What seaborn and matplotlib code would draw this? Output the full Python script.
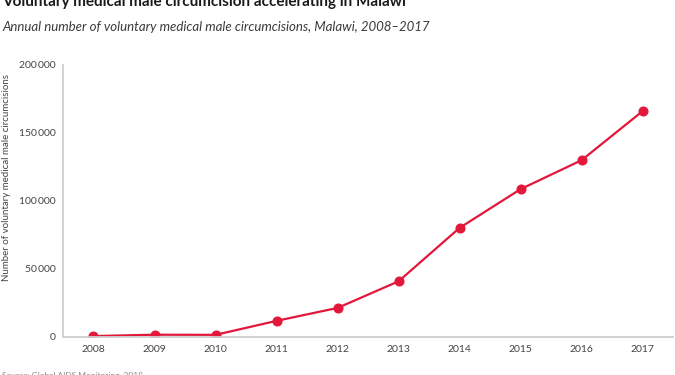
import matplotlib
matplotlib.use("Agg")
import matplotlib.pyplot as plt
import matplotlib.ticker as mticker
import pandas as pd
import seaborn as sns

years = [2008, 2009, 2010, 2011, 2012, 2013, 2014, 2015, 2016, 2017]
circumcisions = [500, 1500, 1400, 11700, 21200, 40800, 80100, 108600, 129900, 166000]
y_ticks = [0, 50000, 100000, 150000, 200000]

title = "Voluntary medical male circumcision accelerating in Malawi"
subtitle = "Annual number of voluntary medical male circumcisions, Malawi, 2008\u20132017"
y_label = "Number of voluntary medical male circumcisions"
source = "Source: Global AIDS Monitoring, 2018."

RED = "#e2173a"
GREY = "#cfcfcf"
TEXT = "#444444"

sns.set_theme(style="white")
plt.rcParams["font.family"] = ["Lato", "DejaVu Sans"]

df = pd.DataFrame({"year": years, "count": circumcisions})

fig = plt.figure(figsize=(6.75, 3.75), dpi=100)
ax = fig.add_axes([0.0933, 0.102, 0.904, 0.725])

sns.lineplot(
    data=df,
    x="year",
    y="count",
    color=RED,
    linewidth=1.6,
    marker="o",
    markersize=6.5,
    markeredgecolor=RED,
    ax=ax,
)

ax.set_xlim(2007.5, 2017.5)
ax.set_ylim(0, 200000)
ax.set_xticks(years)
ax.set_yticks(y_ticks)
ax.yaxis.set_major_formatter(
    mticker.FuncFormatter(lambda v, _: f"{int(v):,}".replace(",", "\u2009"))
)
ax.tick_params(axis="both", length=0, labelsize=7.5, colors=TEXT)
ax.tick_params(axis="x", pad=6)
ax.tick_params(axis="y", pad=5)

ax.set_xlabel("")
ax.set_ylabel(y_label, fontsize=7, color=TEXT)
ax.yaxis.set_label_coords(-0.085, 0.585)

sns.despine(ax=ax)
for side in ["left", "bottom"]:
    ax.spines[side].set_color(GREY)
    ax.spines[side].set_linewidth(1.3)

# title and source sit at the very edges, as in the original export
fig.text(0.003, 1 - 6 / 375, title, fontsize=11, fontweight="bold",
         color="#1a1a1a", va="baseline", ha="left")
fig.text(0.003, 1 - 31 / 375, subtitle, fontsize=9.5, style="italic",
         color="#3c3c3c", va="baseline", ha="left")
fig.text(0.003, 1 - 378 / 375, source, fontsize=6, color="#8a8a8a",
         va="baseline", ha="left")

fig.savefig("out.png", dpi=100)
